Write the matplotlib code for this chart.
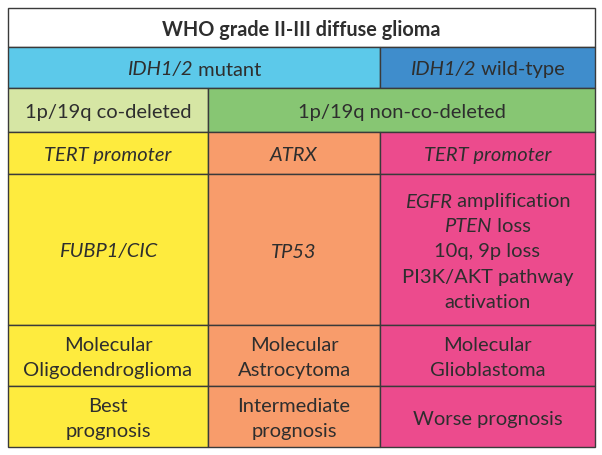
import matplotlib
matplotlib.use("Agg")
import matplotlib.pyplot as plt
from matplotlib.patches import Rectangle

# ── 内容 ─────────────────────────────────────────────────────────────────────
# 文本行 = [(片段, 是否斜体), ...]
title = "WHO grade II-III diffuse glioma"

idh_labels = [
    [[("IDH1/2", True), (" mutant", False)]],
    [[("IDH1/2", True), (" wild-type", False)]],
]
codel_labels = [
    [[("1p/19q co-deleted", False)]],
    [[("1p/19q non-co-deleted", False)]],
]
marker_row1 = [
    [[("TERT promoter", True)]],
    [[("ATRX", True)]],
    [[("TERT promoter", True)]],
]
marker_row2 = [
    [[("FUBP1/CIC", True)]],
    [[("TP53", True)]],
    [[("EGFR", True), (" amplification", False)],
     [("PTEN", True), (" loss", False)],
     [("10q, 9p loss", False)],
     [("PI3K/AKT pathway", False)],
     [("activation", False)]],
]
entity_labels = [
    [[("Molecular", False)], [("Oligodendroglioma", False)]],
    [[("Molecular", False)], [("Astrocytoma", False)]],
    [[("Molecular", False)], [("Glioblastoma", False)]],
]
prognosis_labels = [
    [[("Best", False)], [("prognosis", False)]],
    [[("Intermediate", False)], [("prognosis", False)]],
    [[("Worse prognosis", False)]],
]

# ── 颜色 ─────────────────────────────────────────────────────────────────────
WHITE    = "#FFFFFF"
IDH_MUT  = "#5CC9EA"
IDH_WT   = "#3F8DCC"
CODEL    = "#D6E6A4"
NONCODEL = "#87C673"
YELLOW   = "#FEEB3E"
ORANGE   = "#F89C6B"
PINK     = "#EC4B8D"
EDGE     = "#3A3A3A"
TXT      = "#2E2E2E"
COL_COLORS = [YELLOW, ORANGE, PINK]

# ── 版式 (像素) ───────────────────────────────────────────────────────────────
W, H = 602, 455
XS = [8, 208, 380, 595]                      # 列边界
YS = [8, 47, 88, 132, 174, 325, 386, 447]    # 行边界
LINE_H = 25
FAMILY = ["Lato", "DejaVu Sans"]

fig = plt.figure(figsize=(W / 100, H / 100), dpi=100)
ax = fig.add_axes([0, 0, 1, 1])
ax.set_xlim(0, W)
ax.set_ylim(H, 0)
ax.axis("off")
renderer = fig.canvas.get_renderer()


def text_width(s, italic, weight, fs):
    t = ax.text(0, 0, s, fontsize=fs, family=FAMILY,
                style="italic" if italic else "normal", weight=weight)
    bb = t.get_window_extent(renderer)
    t.remove()
    return bb.width


# 字号按参考图中文字宽度拟合
FS = 13 * 168 / text_width("Oligodendroglioma", False, "normal", 13)
FS_T = 13 * 278 / text_width(title, False, "bold", 13)


def draw_rich(xc, yc, segs, weight="normal", fs=None):
    fs = fs or FS
    widths = [text_width(s, it, weight, fs) for s, it in segs]
    x = xc - sum(widths) / 2
    for (s, it), w in zip(segs, widths):
        ax.text(x, yc, s, fontsize=fs, family=FAMILY, color=TXT,
                style="italic" if it else "normal", weight=weight,
                ha="left", va="center_baseline")
        x += w


def cell(row, c0, c1, color, lines=None, weight="normal", fs=None):
    x0, x1 = XS[c0], XS[c1]
    y0, y1 = YS[row], YS[row + 1]
    ax.add_patch(Rectangle((x0, y0), x1 - x0, y1 - y0, facecolor=color,
                           edgecolor=EDGE, linewidth=1.0))
    if lines:
        yc = (y0 + y1) / 2 - (len(lines) - 1) * LINE_H / 2
        for i, segs in enumerate(lines):
            draw_rich((x0 + x1) / 2, yc + i * LINE_H + 1, segs, weight, fs)


cell(0, 0, 3, WHITE, [[(title, False)]], weight="bold", fs=FS_T)
cell(1, 0, 2, IDH_MUT, idh_labels[0])
cell(1, 2, 3, IDH_WT, idh_labels[1])
cell(2, 0, 1, CODEL, codel_labels[0])
cell(2, 1, 3, NONCODEL, codel_labels[1])
for row, labels in [(3, marker_row1), (4, marker_row2),
                    (5, entity_labels), (6, prognosis_labels)]:
    for c, lines in enumerate(labels):
        cell(row, c, c + 1, COL_COLORS[c], lines)

fig.savefig("out.png", dpi=100)
